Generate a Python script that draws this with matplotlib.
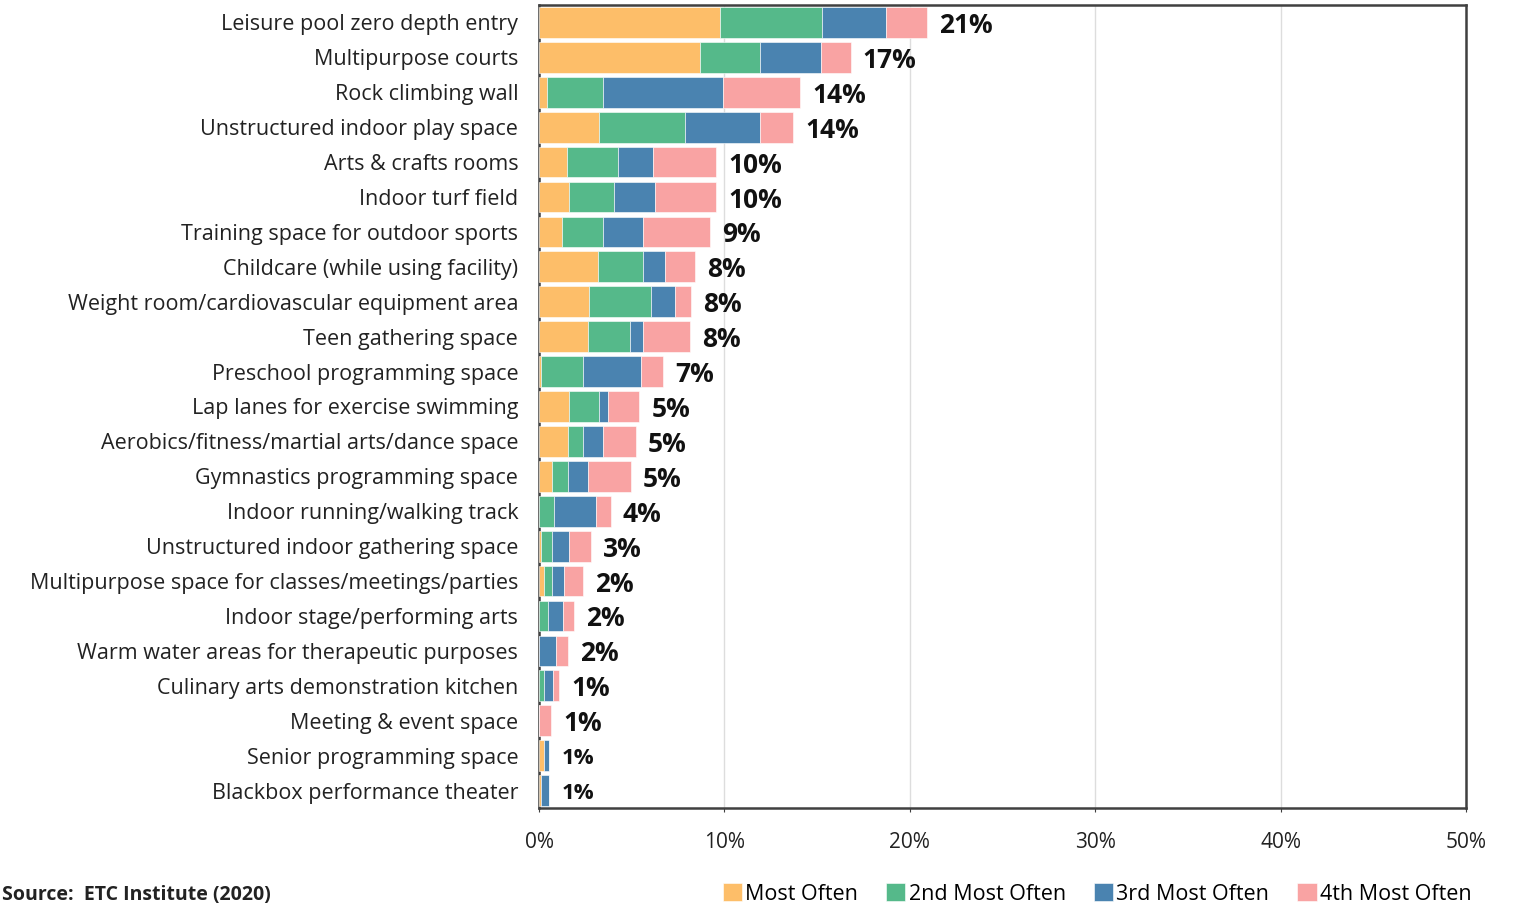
import numpy as np
import matplotlib.pyplot as plt

plt.rcParams['font.family'] = ['Open Sans', 'DejaVu Sans']

# categories, top to bottom
categories = [
    "Leisure pool zero depth entry",
    "Multipurpose courts",
    "Rock climbing wall",
    "Unstructured indoor play space",
    "Arts & crafts rooms",
    "Indoor turf field",
    "Training space for outdoor sports",
    "Childcare (while using facility)",
    "Weight room/cardiovascular equipment area",
    "Teen gathering space",
    "Preschool programming space",
    "Lap lanes for exercise swimming",
    "Aerobics/fitness/martial arts/dance space",
    "Gymnastics programming space",
    "Indoor running/walking track",
    "Unstructured indoor gathering space",
    "Multipurpose space for classes/meetings/parties",
    "Indoor stage/performing arts",
    "Warm water areas for therapeutic purposes",
    "Culinary arts demonstration kitchen",
    "Meeting & event space",
    "Senior programming space",
    "Blackbox performance theater",
]

# percent of respondents, by rank
most_often = [9.76, 8.68, 0.45, 3.25, 1.53, 1.64, 1.26, 3.17, 2.71, 2.63, 0.10, 1.64,
              1.55, 0.72, 0.00, 0.10, 0.29, 0.00, 0.00, 0.00, 0.00, 0.29, 0.10]
second = [5.50, 3.24, 2.98, 4.62, 2.71, 2.42, 2.17, 2.44, 3.35, 2.26, 2.26, 1.61,
          0.81, 0.83, 0.83, 0.62, 0.43, 0.47, 0.00, 0.29, 0.00, 0.00, 0.00]
third = [3.44, 3.27, 6.51, 4.05, 1.93, 2.18, 2.18, 1.17, 1.26, 0.72, 3.14, 0.45,
         1.07, 1.08, 2.24, 0.92, 0.64, 0.81, 0.90, 0.45, 0.00, 0.27, 0.46]
fourth = [2.24, 1.62, 4.14, 1.80, 3.39, 3.31, 3.61, 1.62, 0.89, 2.52, 1.19, 1.71,
          1.80, 2.33, 0.81, 1.16, 1.00, 0.62, 0.65, 0.36, 0.65, 0.00, 0.00]
total_labels = ["21%", "17%", "14%", "14%", "10%", "10%", "9%", "8%", "8%", "8%", "7%",
                "5%", "5%", "5%", "4%", "3%", "2%", "2%", "2%", "1%", "1%", "1%", "1%"]

series = [most_often, second, third, fourth]
names = ["Most Often", "2nd Most Often", "3rd Most Often", "4th Most Often"]
colors = ["#FDBE69", "#55B98A", "#4A83B0", "#F9A3A3"]

fig = plt.figure(figsize=(15.16, 9.06), dpi=100)
ax = fig.add_axes([539 / 1516, 98 / 906, 927 / 1516, 803 / 906])

y = np.arange(len(categories))
left = np.zeros(len(categories))
for vals, name, c in zip(series, names, colors):
    ax.barh(y, vals, left=left, height=0.88, color=c, label=name,
            edgecolor="white", linewidth=0.4, zorder=3)
    left += np.array(vals)

for i, (tot, lab) in enumerate(zip(left, total_labels)):
    fs = 16 if i >= 21 else 19
    ax.text(tot + 0.65, i, lab, va="center_baseline", ha="left", fontsize=fs,
            fontweight="bold", color="#111111", zorder=4)

ax.set_xlim(0, 50)
ax.set_ylim(len(categories) - 0.5, -0.5)
ax.set_yticks(y)
ax.set_yticklabels(categories, fontsize=15.5, color="#222222")
ax.set_xticks(np.arange(0, 51, 10))
ax.set_xticklabels([f"{v}%" for v in range(0, 51, 10)], fontsize=15, color="#222222")
ax.tick_params(axis="y", length=0, pad=15)
ax.tick_params(axis="x", length=3, direction="out", pad=14, color="#404040")
ax.grid(axis="x", color="#dddddd", linewidth=1, zorder=0)
for s in ax.spines.values():
    s.set_color("#404040")
    s.set_linewidth(1.8)

fig.legend(loc="lower right", bbox_to_anchor=(1480 / 1516, -0.008), ncol=4,
           frameon=False, fontsize=15.5, handlelength=0.9, handleheight=0.9,
           handletextpad=0.15, columnspacing=1.3, borderaxespad=0)

fig.text(2 / 1516, 1 / 906, "Source:  ETC Institute (2020)", fontsize=14,
         fontweight="bold", color="#222222", va="bottom")

fig.savefig("out.png", dpi=100)
